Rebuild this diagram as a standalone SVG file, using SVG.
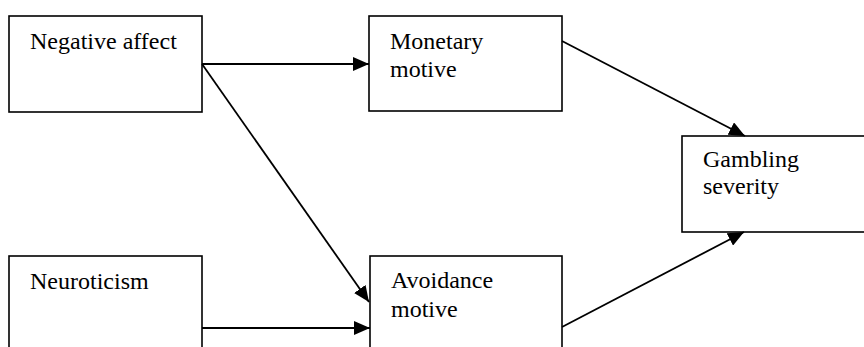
<svg xmlns="http://www.w3.org/2000/svg" width="864" height="347" viewBox="0 0 864 347">
<style>
.box{fill:#fff;stroke:#000;stroke-width:1.6}
.lbl{font-family:"Liberation Serif","Times New Roman",serif;font-size:24px;fill:#000}
.edge{stroke:#000;stroke-width:1.8;fill:none;marker-end:url(#ah)}
</style>
<defs>
<marker id="ah" markerUnits="userSpaceOnUse" markerWidth="16" markerHeight="14" refX="16" refY="7" orient="auto">
<path d="M0,0 L16,7 L0,14 Z" fill="#000"/>
</marker>
</defs>
<rect width="864" height="347" fill="#fff"/>
<g id="negative-affect">
<rect class="box" x="9" y="16" width="193" height="96"/>
<text class="lbl" x="30" y="49">Negative affect</text>
</g>
<g id="monetary-motive">
<rect class="box" x="369" y="16" width="193" height="95"/>
<text class="lbl" x="390" y="49">Monetary</text>
<text class="lbl" x="390" y="77">motive</text>
</g>
<g id="gambling-severity">
<rect class="box" x="682" y="136" width="200" height="96"/>
<text class="lbl" x="703" y="167">Gambling</text>
<text class="lbl" x="703" y="194">severity</text>
</g>
<g id="neuroticism">
<rect class="box" x="9" y="256" width="193" height="110"/>
<text class="lbl" x="30" y="289">Neuroticism</text>
</g>
<g id="avoidance-motive">
<rect class="box" x="370" y="256" width="192" height="110"/>
<text class="lbl" x="391" y="288">Avoidance</text>
<text class="lbl" x="391" y="317">motive</text>
</g>
<g id="connectors">
<line class="edge" x1="202" y1="64" x2="369" y2="64"/>
<line class="edge" x1="202" y1="64" x2="369" y2="302"/>
<line class="edge" x1="202" y1="328" x2="370" y2="328"/>
<line class="edge" x1="562" y1="41" x2="745" y2="136"/>
<line class="edge" x1="562" y1="327" x2="744" y2="232"/>
</g>
</svg>
